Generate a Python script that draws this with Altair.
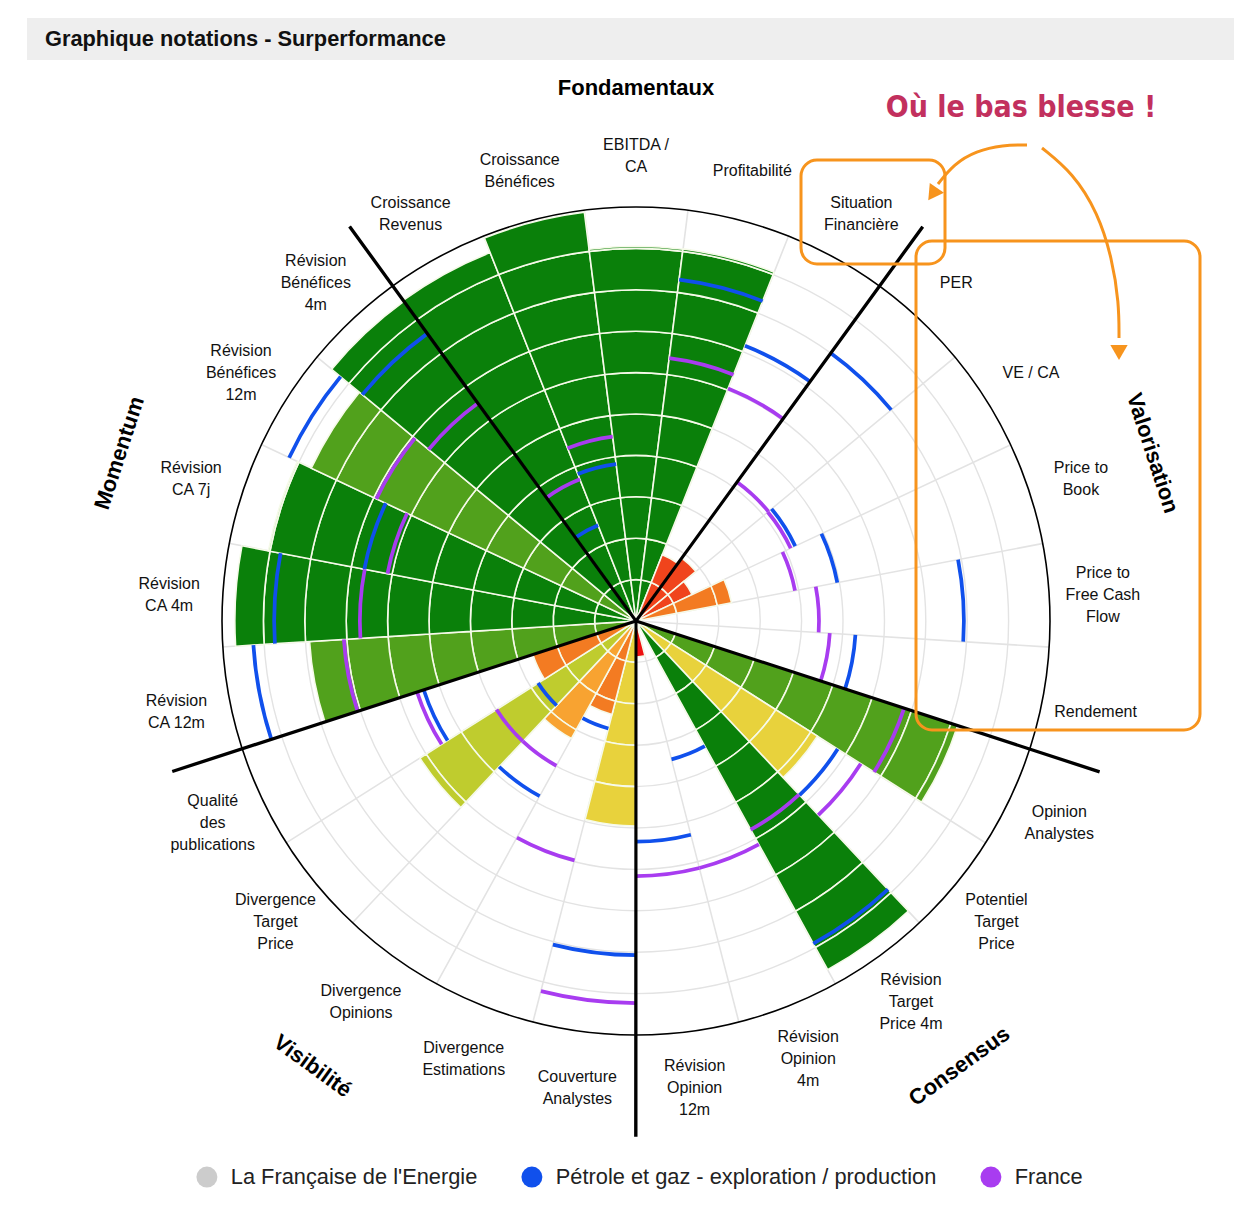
import math
import altair as alt
import pandas as pd

# ------------------------------------------------------------------ data
categories = [
    "Croissance\nRevenus", "Croissance\nBénéfices", "EBITDA /\nCA", "Profitabilité", "Situation\nFinancière",
    "PER", "VE / CA", "Price to\nBook", "Price to\nFree Cash\nFlow", "Rendement",
    "Opinion\nAnalystes", "Potentiel\nTarget\nPrice", "Révision\nTarget\nPrice 4m", "Révision\nOpinion\n4m",
    "Révision\nOpinion\n12m",
    "Couverture\nAnalystes", "Divergence\nEstimations", "Divergence\nOpinions", "Divergence\nTarget\nPrice",
    "Qualité\ndes\npublications",
    "Révision\nCA 12m", "Révision\nCA 4m", "Révision\nCA 7j", "Révision\nBénéfices\n12m", "Révision\nBénéfices\n4m",
]

# score of the company (0-10) per criterion
company_scores = [9.57, 9.95, 9.05, 9.06, 1.72, 1.88, 1.50, 2.35, 0.0, 0.0,
                  8.17, 5.19, 9.61, 0.0, 0.87,
                  4.95, 2.33, 3.24, 6.18, 2.62,
                  7.90, 9.69, 9.04, 8.67, 9.54]

# colour of each bar (rating colour)
DG, MG, YG, YE, LO, DO, RO, RE = ("#0a800a", "#51a11c", "#bfcc2e", "#e8d23c",
                                  "#f8a331", "#f37b22", "#f0441c", "#ee1111")
bar_colors = [DG, DG, DG, DG, RO, RO, RO, DO, DG, DG,
              MG, YE, DG, DG, RE,
              YE, DO, LO, YG, DO,
              MG, DG, DG, MG, DG]

# sector average (Pétrole et gaz - exploration / production)
sector_scores = [2.49, 3.82, None, 8.31, 7.15, 8.00, 4.25, 4.95, 7.92, 5.31,
                 None, 5.77, 8.89, 3.45, 5.33,
                 8.07, 2.68, 4.83, 2.80, 5.39,
                 9.26, 8.74, 6.68, 9.26, 8.58]

# country average (France)
france_scores = [3.68, 4.49, None, 6.40, 6.04, 4.15, 4.13, 3.91, 4.42, 4.69,
                 6.81, 6.43, 5.75, 6.16, 6.16,
                 9.23, 5.97, 3.99, 3.99, 5.56,
                 7.07, 6.67, 6.11, 6.93, 6.50]

legend_names = ["La Française de l'Energie", "Pétrole et gaz - exploration / production", "France"]
legend_colors = ["#cccccc", "#1050ec", "#a83cf0"]

sections = ["Fondamentaux", "Valorisation", "Consensus", "Visibilité", "Momentum"]
section_rotation = [0, 72, 324, 36, 288]
section_radius = [12.87, 13.12, 13.29, 13.29, 13.12]

divider_units = [-2.5, 2.5, 7.5, 12.5, 17.5]
divider_length = [11.74, 11.74, 11.74, 12.42, 11.74]

title_text = "Graphique notations - Surperformance"
note_text = "Où le bas blesse !"

# annotation arrows (chart pixel coordinates)
arrow1_x = [1019, 995, 968, 946, 930]
arrow1_y = [137, 137, 143, 156, 176]
arrow2_x = [1034, 1065, 1090, 1104, 1111, 1111]
arrow2_y = [140, 165, 205, 250, 295, 330]

# ------------------------------------------------------------------ layout
W, H = 1226, 1192
CX, CY = 628, 613
R_PX = 414
FONT = "Liberation Sans, Arial, Helvetica, sans-serif"

TH = alt.Scale(type="linear", domain=[0, 25], range=[0, 2 * math.pi])
RA = alt.Scale(type="linear", domain=[0, 10], range=[0, R_PX], zero=True)
XS = alt.Scale(type="linear", domain=[0, W], range=[0, W], zero=False, nice=False)
YS = alt.Scale(type="linear", domain=[0, H], range=[0, H], zero=False, nice=False)

n = len(categories)

# bar segments (one cell per unit so the white ring lines show)
seg_rows = []
for i, (v, c) in enumerate(zip(company_scores, bar_colors)):
    k = 0
    while k < v - 1e-9:
        seg_rows.append(dict(t0=i - 2.5, t1=i - 1.5, r0=k, r1=min(k + 1, v), col=c))
        k += 1
seg_df = pd.DataFrame(seg_rows)

ring_w = 0.045
ser_rows = []
for name, vals in ((legend_names[1], sector_scores), (legend_names[2], france_scores)):
    for i, v in enumerate(vals):
        if v is None:
            continue
        ser_rows.append(dict(t0=i - 2.5, t1=i - 1.5, ri=v - ring_w, ro=v + ring_w, series=name))
ser_df = pd.DataFrame(ser_rows)

rings_df = pd.DataFrame(dict(k=list(range(1, 10)), t0=[0] * 9, t1=[25] * 9))
outer_df = pd.DataFrame(dict(k=[10], t0=[0], t1=[25]))
spokes_df = pd.DataFrame(dict(t=[i - 2.5 for i in range(n)], t2=[i - 2.5 + 0.002 for i in range(n)], r=[10] * n))
div_df = pd.DataFrame(dict(t=divider_units, t2=[u + 0.003 for u in divider_units], r=divider_length))
lab_df = pd.DataFrame(dict(t=[i - 2.0 for i in range(n)], r=[11.3] * n, label=categories,
                           lines=[c.count("\n") + 1 for c in categories]))
sec_df = pd.DataFrame(dict(t=[5 * j for j in range(5)], r=section_radius, label=sections, rot=section_rotation))
one = pd.DataFrame(dict(a=[0]))

pos = dict(x=alt.value(CX), y=alt.value(CY))


def polar(t0, t1=None, r0=None, r1=None):
    enc = dict(theta=alt.Theta(t0, type="quantitative", scale=TH, stack=None))
    if t1:
        enc["theta2"] = alt.Theta2(t1)
    if r1:
        enc["radius"] = alt.Radius(r1, type="quantitative", scale=RA, stack=None)
    if r0:
        enc["radius2"] = alt.Radius2(r0)
    enc.update(pos)
    return enc


grid = alt.Chart(rings_df).mark_arc(filled=False, stroke="#e3e3e3", strokeWidth=1.4).encode(
    **polar("t0", "t1", None, "k"))
spokes = alt.Chart(spokes_df).mark_arc(filled=False, stroke="#e3e3e3", strokeWidth=1.4).encode(
    **polar("t", "t2", None, "r"))
bars = alt.Chart(seg_df).mark_arc(stroke="#f6fae9", strokeWidth=1.6).encode(
    fill=alt.Fill("col:N", scale=None, legend=None), **polar("t0", "t1", "r0", "r1"))
series = alt.Chart(ser_df).mark_arc(strokeWidth=0).encode(
    color=alt.Color("series:N", scale=alt.Scale(domain=legend_names, range=legend_colors),
                    legend=alt.Legend(title=None, orient="none", legendX=188, legendY=1158,
                                      direction="horizontal", symbolType="circle", symbolSize=440,
                                      symbolStrokeWidth=0, labelFontSize=21.8, labelFont=FONT,
                                      labelColor="#222222", labelOffset=13, columnPadding=43,
                                      labelLimit=800, padding=0)),
    **polar("t0", "t1", "ri", "ro"))
outer = alt.Chart(outer_df).mark_arc(filled=False, stroke="#000000", strokeWidth=1.6).encode(
    **polar("t0", "t1", None, "k"))
dividers = alt.Chart(div_df).mark_arc(fill="#000000", stroke="#000000", strokeWidth=3).encode(
    **polar("t", "t2", None, "r"))

label_layers = []
for nl in (1, 2, 3):
    label_layers.append(
        alt.Chart(lab_df[lab_df["lines"] == nl]).mark_text(
            font=FONT, fontSize=16, lineBreak="\n", lineHeight=22, align="center", baseline="middle",
            dy=3 - 11 * (nl - 1), color="#111111").encode(
            text="label:N", **polar("t", None, None, "r")))

sec_labels = alt.Chart(sec_df).mark_text(font=FONT, fontSize=22, fontWeight="bold", align="center",
                                         baseline="middle", color="#000000").encode(
    text="label:N", angle=alt.Angle("rot:Q", scale=None), **polar("t", None, None, "r"))

header = alt.Chart(one).mark_rect(fill="#eeeeee").encode(
    x=alt.value(19), x2=alt.value(W), y=alt.value(10), y2=alt.value(52))
title = alt.Chart(one).mark_text(text=title_text, font=FONT, fontSize=21.8, fontWeight="bold",
                                 align="left", baseline="middle", color="#111111").encode(
    x=alt.value(37), y=alt.value(31))
note = alt.Chart(one).mark_text(text=note_text, font="DejaVu Sans Condensed, sans-serif",
                                fontSize=30, fontWeight="bold", align="center", baseline="middle",
                                color="#c2305e").encode(x=alt.value(1013), y=alt.value(100))
ORANGE = "#f7941d"
box1 = alt.Chart(one).mark_rect(filled=False, stroke=ORANGE, strokeWidth=3, cornerRadius=16).encode(
    x=alt.value(793), x2=alt.value(937), y=alt.value(152), y2=alt.value(256))
box2 = alt.Chart(one).mark_rect(filled=False, stroke=ORANGE, strokeWidth=3, cornerRadius=16).encode(
    x=alt.value(908), x2=alt.value(1192), y=alt.value(233), y2=alt.value(722))

arr_df = pd.DataFrame(dict(x=arrow1_x + arrow2_x, y=arrow1_y + arrow2_y,
                           g=["a"] * len(arrow1_x) + ["b"] * len(arrow2_x),
                           o=list(range(len(arrow1_x))) + list(range(len(arrow2_x)))))
arrows = alt.Chart(arr_df).mark_line(color=ORANGE, strokeWidth=3, interpolate="basis").encode(
    x=alt.X("x:Q", scale=XS, axis=None), y=alt.Y("y:Q", scale=YS, axis=None),
    detail="g:N", order="o:Q")
head_df = pd.DataFrame(dict(x=[arrow1_x[-1] - 4, arrow2_x[-1]], y=[arrow1_y[-1] + 8, arrow2_y[-1] + 12],
                            a=[215, 180]))
heads = alt.Chart(head_df).mark_point(shape="triangle", filled=True, size=300, color=ORANGE, opacity=1).encode(
    x=alt.X("x:Q", scale=XS, axis=None), y=alt.Y("y:Q", scale=YS, axis=None),
    angle=alt.Angle("a:Q", scale=None))

chart = alt.layer(header, title, grid, spokes, bars, series, outer, dividers, *label_layers, sec_labels,
                  box1, box2, arrows, heads, note).properties(
    width=W, height=H, autosize=alt.AutoSizeParams(type="none"), padding=0,
    background="#ffffff").configure_view(stroke=None)

chart.save("out.html", embed_options={"renderer": "svg", "actions": False})
